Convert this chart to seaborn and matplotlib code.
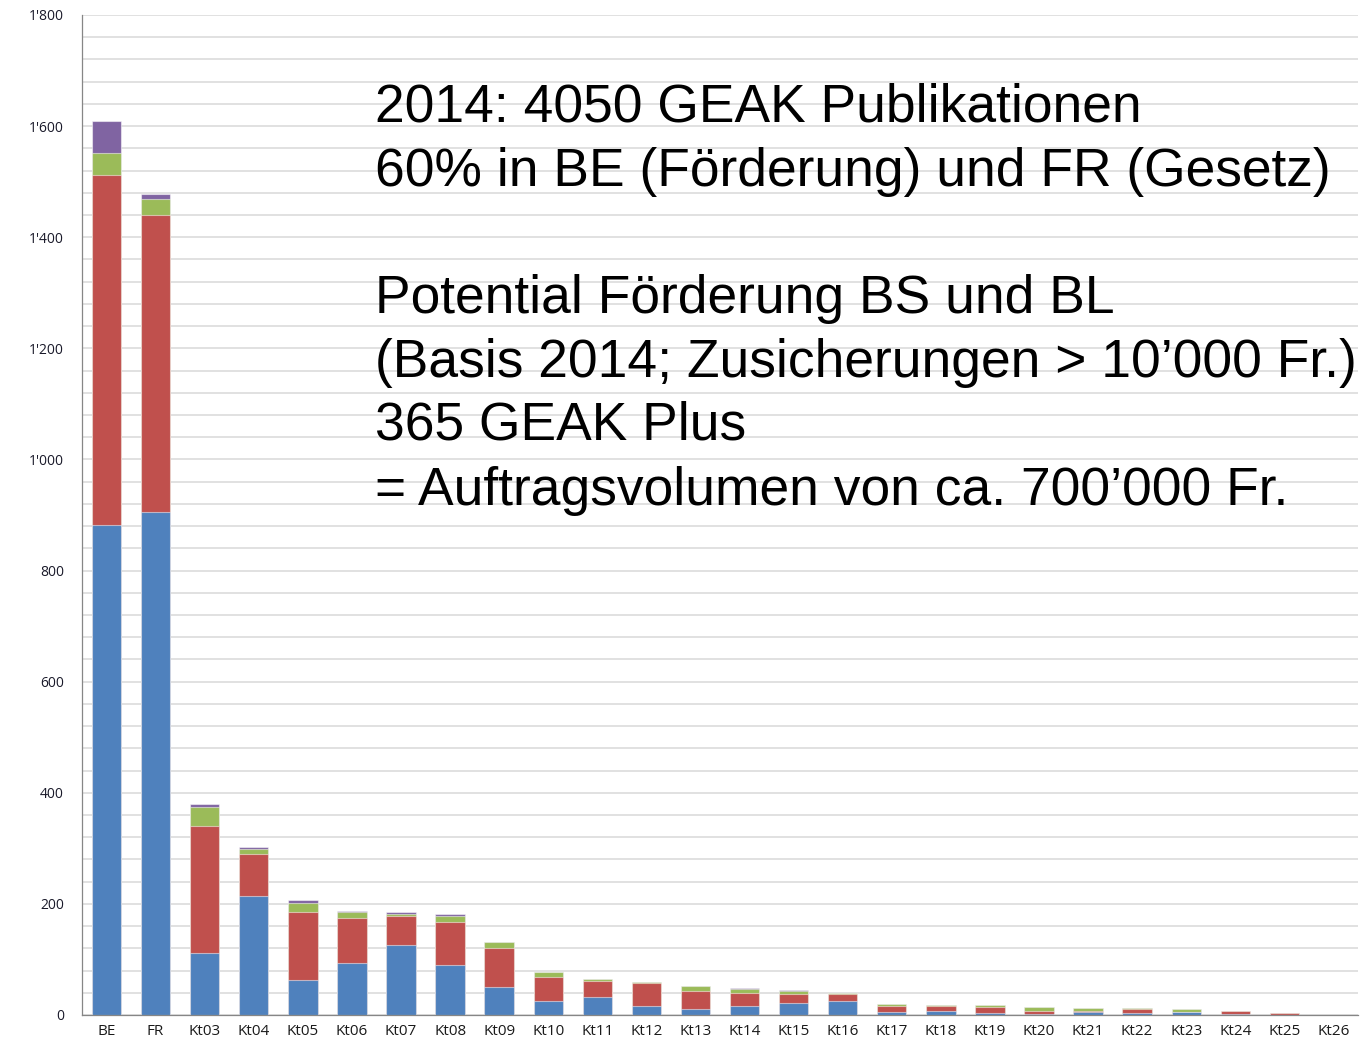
import numpy as np
import pandas as pd
import matplotlib
import matplotlib.pyplot as plt
from matplotlib.ticker import FuncFormatter, MultipleLocator
import seaborn as sns

matplotlib.use('Agg')

# categories (cantons) and stacked series
cantons = ["BE", "FR", "Kt03", "Kt04", "Kt05", "Kt06", "Kt07", "Kt08", "Kt09",
           "Kt10", "Kt11", "Kt12", "Kt13", "Kt14", "Kt15", "Kt16", "Kt17",
           "Kt18", "Kt19", "Kt20", "Kt21", "Kt22", "Kt23", "Kt24", "Kt25", "Kt26"]
blue = [882, 905, 112, 215, 63, 94, 126, 90, 50, 26, 32, 17, 10, 17, 22, 25,
        6, 8, 3, 1, 5, 3, 5, 1, 0, 0]
red = [630, 535, 228, 74, 122, 81, 52, 78, 71, 42, 29, 41, 33, 22, 15, 13,
       11, 8, 12, 7, 2, 8, 1, 6, 4, 0]
green = [40, 29, 35, 9, 17, 10, 4, 10, 11, 10, 3, 1, 9, 8, 6, 1,
         2, 2, 3, 6, 5, 1, 4, 0, 0, 0]
purple = [57, 9, 4, 4, 5, 2, 3, 3, 0, 0, 0, 0, 0, 1, 2, 0,
          0, 0, 0, 0, 0, 0, 0, 0, 0, 0]

y_ticks = list(range(0, 1801, 200))

text_lines = [
    "2014: 4050 GEAK Publikationen",
    "60% in BE (Förderung) und FR (Gesetz)",
    "Potential Förderung BS und BL",
    "(Basis 2014; Zusicherungen > 10’000 Fr.)",
    "365 GEAK Plus",
    "= Auftragsvolumen von ca. 700’000 Fr.",
]
text_baselines = [122, 186, 313, 377, 440, 505]

colors = {"blue": "#4F81BD", "red": "#C0504D", "green": "#9BBB59", "purple": "#8064A2"}

sns.set_style("white")
plt.rcParams['font.family'] = ['Open Sans', 'DejaVu Sans']

df = pd.DataFrame({"canton": cantons, "blue": blue, "red": red,
                   "green": green, "purple": purple})
df["c1"] = df["blue"]
df["c2"] = df["c1"] + df["red"]
df["c3"] = df["c2"] + df["green"]
df["c4"] = df["c3"] + df["purple"]

W, H = 1364, 1043
fig = plt.figure(figsize=(W / 100, H / 100), dpi=100)
ax = fig.add_axes([82 / W, 28 / H, (1358 - 82) / W, 1000 / H])

# draw cumulative totals back to front to get the stacks
for col, name in [("c4", "purple"), ("c3", "green"), ("c2", "red"), ("c1", "blue")]:
    sns.barplot(data=df, x="canton", y=col, color=colors[name], saturation=1,
                width=0.6, edgecolor=(1, 1, 1, 0.5), linewidth=0.8, ax=ax)

ax.set_xlim(-0.5, len(cantons) - 0.5)
ax.set_ylim(0, 1800)
ax.set_xlabel("")
ax.set_ylabel("")

ax.set_yticks(y_ticks)
ax.yaxis.set_minor_locator(MultipleLocator(40))
ax.yaxis.set_major_formatter(FuncFormatter(lambda v, p: f"{int(v):,}".replace(",", "'")))
ax.grid(True, axis="y", which="both", color="#d9d9d9", linewidth=1.1)
ax.set_axisbelow(True)

ax.set_xticks(np.arange(-0.5, len(cantons), 1), minor=True)
ax.tick_params(axis="x", which="major", length=0, pad=6.5, labelsize=11,
               labelcolor="#1a1a1a")
ax.tick_params(axis="x", which="minor", length=21, width=0.8, color="#a6a6a6",
               direction="out")
ax.tick_params(axis="y", which="both", length=3, width=0.8, color="#a6a6a6",
               direction="out")
ax.tick_params(axis="y", which="major", pad=10, labelsize=10, labelcolor="#1a1a2a")

for side in ["top", "right"]:
    ax.spines[side].set_visible(False)
for side in ["left", "bottom"]:
    ax.spines[side].set_color("#868686")
    ax.spines[side].set_linewidth(0.9)

for line, base in zip(text_lines, text_baselines):
    fig.text(375 / W, 1 - base / H, line, fontsize=38.4, va="baseline", ha="left",
             family=["Liberation Sans", "DejaVu Sans"], color="black")

fig.savefig("out.png", dpi=100)
